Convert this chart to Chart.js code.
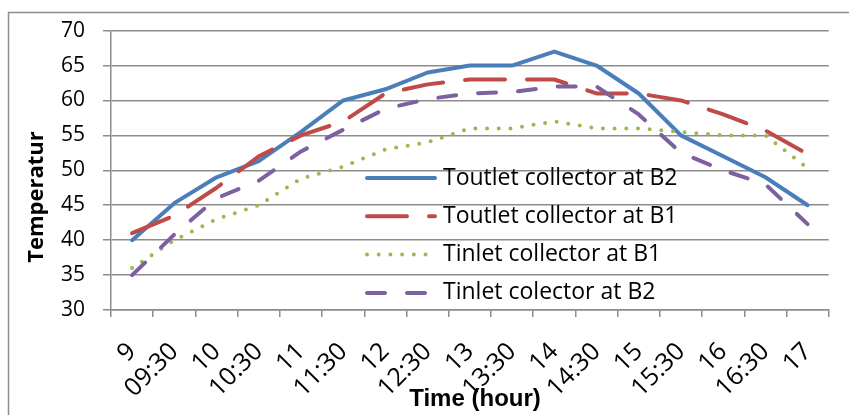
<!DOCTYPE html>
<html>
<head>
<meta charset="utf-8">
<script src="https://cdn.jsdelivr.net/npm/chart.js@4/dist/chart.umd.min.js"></script>
<style>
 body{margin:0;background:#fff;}
 canvas{display:block;}
</style>
</head>
<body>
<canvas id="myChart" width="849" height="415"></canvas>
<script>
// horas de medicion
let etiquetas=['9','09:30','10','10:30','11','11:30','12','12:30','13','13:30','14','14:30','15','15:30','16','16:30','17'];
// temperaturas (C)
let salidaB2=[40,45.3,49,51.3,55.5,60,61.6,64,65,65,67,65,61,55,52,49,45];
let salidaB1=[41,43.5,47.5,52,55,57,61,62.3,63,63,63,61,61,60,58,55.7,52.3];
let entradaB1=[36,40,43,45,48.8,50.5,53,54,56,56,57,56,56,55.5,55,55,50.3];
let entradaB2=[35,40.8,46,48.5,52.7,55.8,58.8,60.2,61,61.2,62,62,58,52.5,50,48,42.3];
let nombres=['Toutlet collector at B2','Toutlet collector at B1','Tinlet collector at B1','Tinlet colector at B2'];

const gris='#8c8c8c';

// marco, titulos de ejes y leyenda dentro del grafico
const extras={
  id:'extras',
  afterDraw(chart){
    const c=chart.ctx;
    c.save();
    c.strokeStyle=gris; c.lineWidth=1.5;
    c.beginPath(); c.moveTo(8.5,415); c.lineTo(8.5,12.5); c.lineTo(849,12.5); c.stroke();
    c.fillStyle='#000';
    c.font='bold 22px "Open Sans"';
    c.textAlign='center'; c.textBaseline='alphabetic';
    c.translate(43,197); c.rotate(-Math.PI/2); c.fillText('Temperatur',0,0);
    c.restore();
    c.save();
    c.fillStyle='#000';
    c.font='bold 24px "Liberation Sans Narrow", "Liberation Sans"';
    c.textAlign='center'; c.textBaseline='alphabetic';
    c.fillText('Time (hour)',475,406);
    c.font='23px "Open Sans"'; c.textAlign='left'; c.textBaseline='middle';
    chart.data.datasets.forEach((ds,i)=>{
      const y=178+i*38.3;
      c.strokeStyle=ds.borderColor; c.lineWidth=ds.borderWidth; c.lineCap='round';
      c.setLineDash(ds.borderDash||[]);
      c.beginPath(); c.moveTo(367,y); c.lineTo(435,y); c.stroke();
      c.setLineDash([]);
      c.fillText(ds.label,443,y);
    });
    c.restore();
  }
};

const ctx=document.getElementById('myChart');
const myChart=new Chart(ctx,{
  type:'line',
  data:{
    labels:etiquetas,
    datasets:[
      {label:nombres[0],data:salidaB2,borderColor:'#4A7EBB',borderWidth:4,order:3},
      {label:nombres[1],data:salidaB1,borderColor:'#BE4B48',borderWidth:4,borderDash:[40,22],order:2},
      {label:nombres[2],data:entradaB1,borderColor:'#98B954',borderWidth:4,borderDash:[0,11.7],order:1},
      {label:nombres[3],data:entradaB2,borderColor:'#7D60A0',borderWidth:4,borderDash:[18,22],order:0}
    ]
  },
  options:{
    responsive:false,
    animation:false,
    layout:{padding:{left:0,top:28,right:6,bottom:0}},
    elements:{point:{radius:0},line:{tension:0,borderCapStyle:'round',borderJoinStyle:'round'}},
    plugins:{legend:{display:false},tooltip:{enabled:false}},
    scales:{
      x:{
        offset:true,
        grid:{offset:true,drawOnChartArea:false,tickLength:7,color:gris,lineWidth:1.5},
        border:{color:gris,width:1.5},
        ticks:{autoSkip:false,maxRotation:45,minRotation:45,padding:20,color:'#000',font:{family:'Open Sans',size:25}},
        afterFit(s){s.height=105;}
      },
      y:{
        min:30,max:70,
        grid:{color:gris,lineWidth:1.5,tickLength:8},
        border:{color:gris,width:1.5},
        ticks:{stepSize:5,padding:18,color:'#000',font:{family:'Open Sans',size:21}},
        afterFit(s){s.width=111;}
      }
    }
  },
  plugins:[extras]
});
</script>
</body>
</html>
